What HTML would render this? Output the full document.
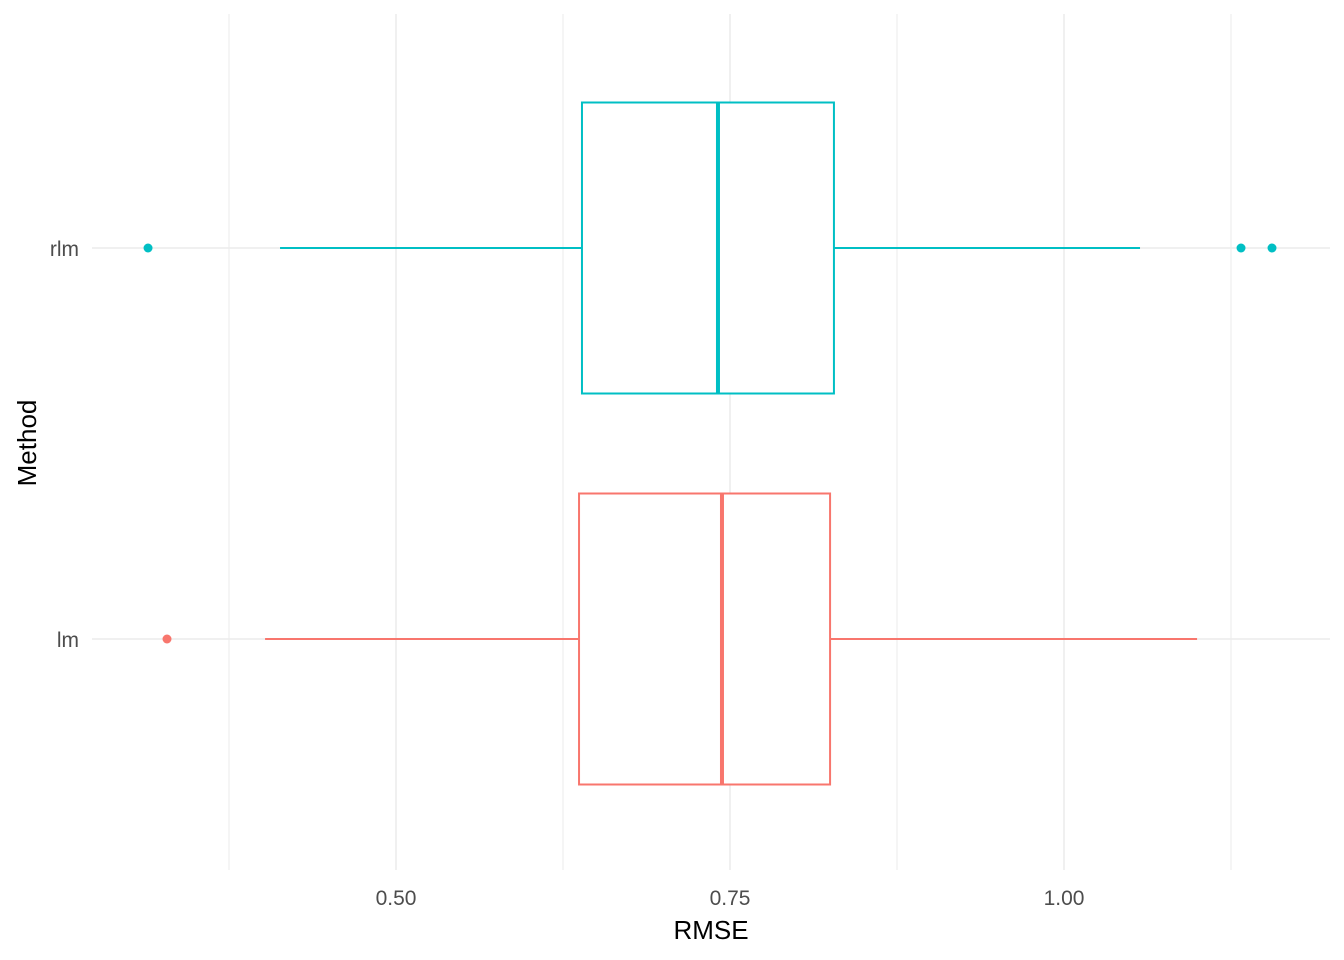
<!DOCTYPE html>
<html><head><meta charset="utf-8"><style>
html,body{margin:0;padding:0;background:#fff;}
svg{display:block;font-family:"Liberation Sans",Arial,sans-serif;}
</style></head><body>
<svg id="chart" width="1344" height="960">
<g id="grid"></g>
<g id="marks"></g>
<g id="axes"></g>
<text x="711" y="939" text-anchor="middle" font-size="26" fill="#000">RMSE</text>
<text transform="translate(36,443) rotate(-90)" text-anchor="middle" font-size="26" fill="#000">Method</text>
</svg>
<script>
const categories = ["lm","rlm"];
const colors = ["#F8766D","#00BFC4"];
const lowerWhisker = [0.402, 0.4132];
const q1 = [0.637, 0.6392];
const medians = [0.744, 0.741];
const q3 = [0.8249, 0.8278];
const upperWhisker = [1.0996, 1.0569];
const outliers = [[0.3286],[0.3144,1.1325,1.1557]];
const xTicks = [0.5,0.75,1.0];
const xTickLabels = ["0.50","0.75","1.00"];
const xMinor = [0.375,0.625,0.875,1.125];

const NS="http://www.w3.org/2000/svg";
function x(v){return 396+(v-0.5)*1336;}
function y(i){return 639-i*391;}
const halfH=145.5;
function mk(parent,tag,attrs){const e=document.createElementNS(NS,tag);for(const k in attrs)e.setAttribute(k,attrs[k]);document.getElementById(parent).appendChild(e);return e;}
xMinor.forEach(v=>{const l=mk('grid','line',{x1:x(v),x2:x(v),y1:14,y2:870,stroke:'#ebebeb','stroke-width':1});

});
xTicks.forEach((v,i)=>{const l=mk('grid','line',{x1:x(v),x2:x(v),y1:14,y2:870,stroke:'#ebebeb','stroke-width':1.5});


const t=mk('axes','text',{x:x(v),y:905,'text-anchor':'middle','font-size':21,fill:'#4d4d4d'});t.textContent=xTickLabels[i];

});
categories.forEach((c,i)=>{
const l=mk('grid','line',{x1:92,x2:1330,y1:y(i),y2:y(i),stroke:'#ebebeb','stroke-width':1.5});


const t=mk('axes','text',{x:79,y:y(i)+8,'text-anchor':'end','font-size':21,fill:'#4d4d4d'});t.textContent=c;


const col=colors[i];
const w1=mk('marks','line',{x1:x(lowerWhisker[i]),x2:x(q1[i]),y1:y(i),y2:y(i),stroke:col,'stroke-width':2});


const w2=mk('marks','line',{x1:x(q3[i]),x2:x(upperWhisker[i]),y1:y(i),y2:y(i),stroke:col,'stroke-width':2});


const b=mk('marks','rect',{x:x(q1[i]),y:y(i)-halfH,width:x(q3[i])-x(q1[i]),height:2*halfH,fill:'#fff',stroke:col,'stroke-width':2});


const m=mk('marks','line',{x1:x(medians[i]),x2:x(medians[i]),y1:y(i)-halfH,y2:y(i)+halfH,stroke:col,'stroke-width':4});


outliers[i].forEach(o=>{const p=mk('marks','circle',{cx:x(o),cy:y(i),r:4.5,fill:col});

});
});
</script>
</body></html>
